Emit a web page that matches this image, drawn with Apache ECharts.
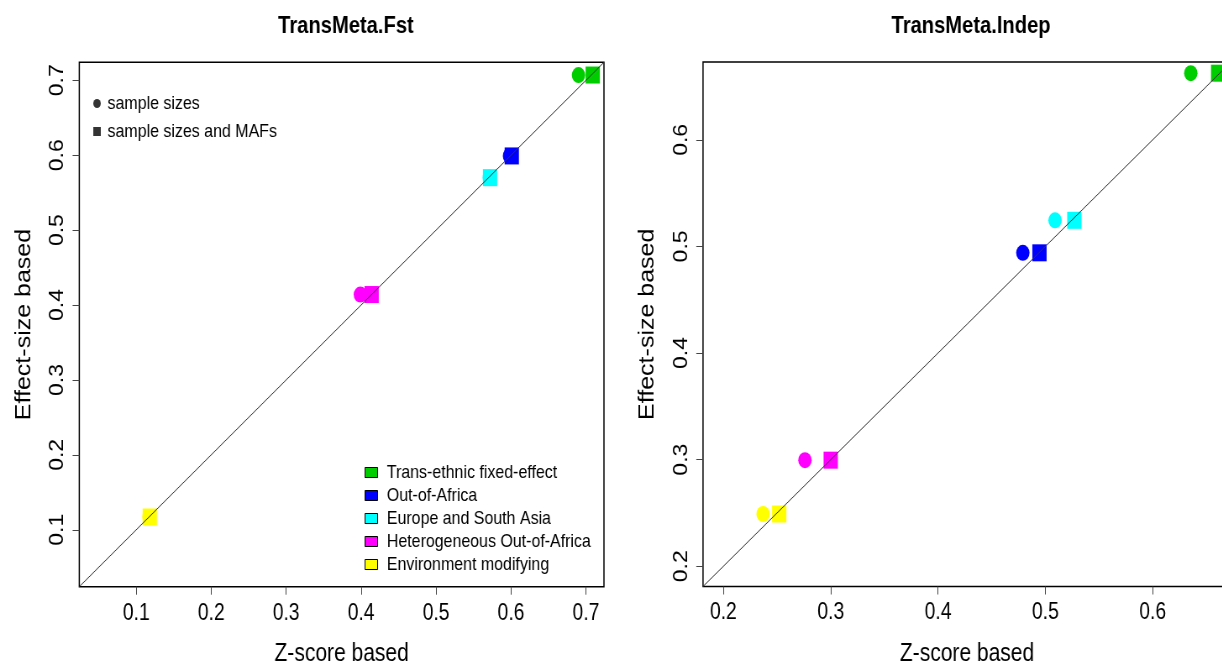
<!DOCTYPE html>
<html><head><meta charset="utf-8">
<script src="https://cdn.jsdelivr.net/npm/echarts@6/dist/echarts.min.js"></script>
<style>
html,body{margin:0;padding:0;background:#fff;overflow:hidden;width:1222px;height:665px}
#wrap{position:absolute;left:0;top:0;width:1222px;height:665px;overflow:hidden;}
#c{position:absolute;left:0;top:0;width:1490px;height:665px;transform:scaleX(0.84);transform-origin:0 0;}
</style>
</head><body><div id="wrap"><div id="c"></div></div>
<script>
// ---- data ----
const groups = ['Trans-ethnic fixed-effect', 'Out-of-Africa', 'Europe and South Asia', 'Heterogeneous Out-of-Africa', 'Environment modifying'];
const groupColors = ['#00cd00', '#0000ff', '#00ffff', '#ff00ff', '#ffff00'];
const shapeNames = ['sample sizes', 'sample sizes and MAFs'];
const panelTitles = ['TransMeta.Fst', 'TransMeta.Indep'];
const xAxisName = 'Z-score based';
const yAxisName = 'Effect-size based';

// TransMeta.Fst panel
const fstCircleX = [0.690, 0.598, 0.571, 0.399, 0.117];
const fstCircleY = [0.707, 0.599, 0.570, 0.414, 0.117];
const fstSquareX = [0.709, 0.601, 0.572, 0.414, 0.118];
const fstSquareY = [0.707, 0.599, 0.570, 0.414, 0.117];
const fstTicks = [0.1, 0.2, 0.3, 0.4, 0.5, 0.6, 0.7];
const fstRange = [0.024, 0.724];

// TransMeta.Indep panel
const indCircleX = [0.6355, 0.479, 0.509, 0.276, 0.237];
const indCircleY = [0.6625, 0.494, 0.5245, 0.2995, 0.249];
const indSquareX = [0.661, 0.4945, 0.527, 0.300, 0.252];
const indSquareY = [0.6625, 0.494, 0.5245, 0.2995, 0.249];
const indTicks = [0.2, 0.3, 0.4, 0.5, 0.6];
const indRange = [0.181, 0.673];

// ---- chart ----
const FONT = '"Liberation Sans", Arial, sans-serif';
const chart = echarts.init(document.getElementById('c'), null, {renderer: 'canvas'});

const panels = [
  {cx: fstCircleX, cy: fstCircleY, sx: fstSquareX, sy: fstSquareY, ticks: fstTicks, range: fstRange},
  {cx: indCircleX, cy: indCircleY, sx: indSquareX, sy: indSquareY, ticks: indTicks, range: indRange}
];

const series = [];
panels.forEach((p, gi) => {
  groups.forEach((g, i) => {
    series.push({type: 'scatter', name: g, xAxisIndex: gi, yAxisIndex: gi, symbol: 'circle', symbolSize: 16,
      itemStyle: {color: groupColors[i], opacity: 1}, data: [[p.cx[i], p.cy[i]]], z: 2, silent: true, emphasis: {disabled: true}});
  });
});
panels.forEach((p, gi) => {
  groups.forEach((g, i) => {
    series.push({type: 'scatter', name: g, xAxisIndex: gi, yAxisIndex: gi, symbol: 'rect', symbolSize: 17,
      itemStyle: {color: groupColors[i], opacity: 1}, data: [[p.sx[i], p.sy[i]]], z: 3, silent: true, emphasis: {disabled: true}});
  });
});
panels.forEach((p, gi) => {
  series.push({type: 'line', name: 'diag' + gi, xAxisIndex: gi, yAxisIndex: gi, symbol: 'none', clip: true, silent: true,
    lineStyle: {color: '#333', width: 1}, data: [[p.range[0], p.range[0]], [p.range[1], p.range[1]]], z: 5});
});
series.push({type: 'scatter', name: shapeNames[0], symbol: 'circle', itemStyle: {color: '#000'}, data: [], xAxisIndex: 0, yAxisIndex: 0});
series.push({type: 'scatter', name: shapeNames[1], symbol: 'rect', itemStyle: {color: '#000'}, data: [], xAxisIndex: 0, yAxisIndex: 0});

function xAxis(p, gi) {
  return {gridIndex: gi, type: 'value', min: p.range[0], max: p.range[1],
    axisLine: {show: false, onZero: false}, splitLine: {show: false},
    axisTick: {show: true, customValues: p.ticks, length: 8, lineStyle: {color: '#444', width: 1}},
    axisLabel: {customValues: p.ticks, formatter: v => v.toFixed(1), fontSize: 23, color: '#000', margin: 15, fontFamily: FONT},
    name: xAxisName, nameLocation: 'middle', nameGap: 55, nameTextStyle: {fontSize: 25, color: '#000', fontFamily: FONT}};
}
function yAxis(p, gi) {
  return {gridIndex: gi, type: 'value', min: p.range[0], max: p.range[1],
    axisLine: {show: false, onZero: false}, splitLine: {show: false},
    axisTick: {show: true, customValues: p.ticks, length: 8, lineStyle: {color: '#444', width: 1}},
    axisLabel: {customValues: p.ticks, formatter: v => v.toFixed(1), fontSize: 23, color: '#000', margin: 14, rotate: 90, fontFamily: FONT},
    name: yAxisName, nameLocation: 'middle', nameGap: 53, nameTextStyle: {fontSize: 25, color: '#000', fontFamily: FONT}};
}

const option = {
  animation: false,
  backgroundColor: '#fff',
  textStyle: {fontFamily: FONT},
  title: [
    {text: panelTitles[0], left: 406.8, top: 9, textAlign: 'center', textStyle: {fontSize: 24, fontWeight: 'bold', color: '#000', fontFamily: FONT}},
    {text: panelTitles[1], left: 1151, top: 9, textAlign: 'center', textStyle: {fontSize: 24, fontWeight: 'bold', color: '#000', fontFamily: FONT}}
  ],
  grid: [
    {left: 94.4, top: 62.3, width: 624.6, height: 524.4, show: true, borderColor: '#000', borderWidth: 1.5, backgroundColor: 'transparent', outerBoundsMode: 'none', containLabel: false},
    {left: 836.9, top: 62, width: 628.6, height: 524.5, show: true, borderColor: '#000', borderWidth: 1.5, backgroundColor: 'transparent', outerBoundsMode: 'none', containLabel: false}
  ],
  xAxis: panels.map(xAxis),
  yAxis: panels.map(yAxis),
  legend: [
    {data: groups.map(n => ({name: n, icon: 'rect'})), orient: 'vertical', left: 429, top: 458,
      itemWidth: 15, itemHeight: 10, itemGap: 4, selectedMode: false,
      itemStyle: {borderColor: '#000', borderWidth: 1},
      textStyle: {fontSize: 19, color: '#000', fontFamily: FONT, padding: [0, 0, 0, 6]}},
    {data: [{name: shapeNames[0], icon: 'circle'}, {name: shapeNames[1], icon: 'rect'}], orient: 'vertical', left: 106, top: 89,
      itemWidth: 9, itemHeight: 9, itemGap: 9, selectedMode: false,
      textStyle: {fontSize: 19, color: '#000', fontFamily: FONT, padding: [0, 0, 0, 3]}}
  ],
  series: series
};
chart.setOption(option);
</script>
</body></html>
